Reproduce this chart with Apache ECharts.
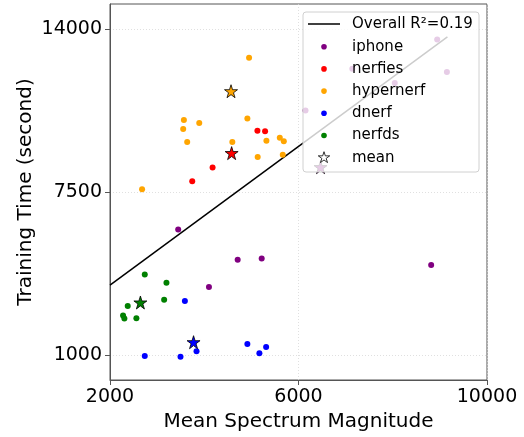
<!DOCTYPE html>
<html>
<head>
<meta charset="utf-8">
<script src="https://cdn.jsdelivr.net/npm/echarts@6/dist/echarts.min.js"></script>
<style>
  html, body { margin: 0; padding: 0; background: #fff; }
  #chart { width: 524px; height: 437px; }
</style>
</head>
<body>
<div id="chart"></div>
<script>
// values
const xTicks = [2000, 6000, 10000];
const yTicks = [1000, 7500, 14000];

const iphoneX = [8943, 9149, 7142, 8043, 6149, 3447, 4709, 5219, 4100, 8815];
const iphoneY = [13588, 12292, 12412, 11852, 10748, 6000, 4800, 4852, 3708, 4588];

const nerfiesX = [5128, 5291, 4177, 3745];
const nerfiesY = [9948, 9920, 8480, 7932];

const hypernerfX = [4951, 3568, 3553, 3894, 3638, 4915, 4596, 5319, 5603, 5688, 5134, 5666, 2681];
const hypernerfY = [12852, 10372, 10012, 10252, 9492, 10428, 9492, 9548, 9668, 9520, 8892, 8988, 7612];

const dnerfX = [3589, 2738, 3496, 3836, 4915, 5170, 5313];
const dnerfY = [3148, 960, 932, 1148, 1440, 1068, 1320];

const nerfdsX = [2738, 3198, 3149, 2376, 2277, 2305, 2560];
const nerfdsY = [4212, 3880, 3200, 2948, 2572, 2452, 2468];

// mean stars, one per dataset
const meanNames = ['iphone', 'nerfies', 'hypernerf', 'dnerf', 'nerfds'];
const meanX = [6468, 4581, 4568, 3773, 2645];
const meanY = [8492, 9052, 11520, 1508, 3092];

// regression line ends
const fitX = [2000, 9160];
const fitY = [3788, 13692];

const colors = {
  iphone: '#800080',
  nerfies: '#ff0000',
  hypernerf: '#ffa500',
  dnerf: '#0000ff',
  nerfds: '#008000'
};

// five point star, outer radius 50, inner 19
const starPts = [
  [50, 0], [61.17, 34.63], [97.55, 34.55], [68.07, 55.87], [79.39, 90.45],
  [50, 69], [20.61, 90.45], [31.93, 55.87], [2.45, 34.55], [38.83, 34.63]
];
const STAR = 'path://M' + starPts.map(p => p.join(' ')).join(' L') + ' Z';
const FONT = 'DejaVu Sans';

const zip = (xs, ys) => xs.map((x, i) => [x, ys[i]]);

const pointSeries = (name, xs, ys) => ({
  name: name,
  type: 'scatter',
  symbol: 'circle',
  symbolSize: 6,
  z: 3,
  itemStyle: { color: colors[name], opacity: 1 },
  data: zip(xs, ys)
});

const legendRows = [
  { label: 'iphone', color: colors.iphone },
  { label: 'nerfies', color: colors.nerfies },
  { label: 'hypernerf', color: colors.hypernerf },
  { label: 'dnerf', color: colors.dnerf },
  { label: 'nerfds', color: colors.nerfds }
];

const legendFont = '15px "' + FONT + '"';
const LZ = 100;
const legendChildren = [
  {
    type: 'rect', z: LZ,
    shape: { x: 0, y: 0, width: 176, height: 160, r: 3 },
    style: { fill: 'rgba(255,255,255,0.8)', stroke: '#d0d0d0', lineWidth: 1 }
  },
  {
    type: 'line', z: LZ + 1,
    shape: { x1: 5, y1: 12, x2: 37, y2: 12 },
    style: { stroke: '#000', lineWidth: 1.5 }
  },
  {
    type: 'text', z: LZ + 1,
    x: 49, y: 12,
    style: { text: 'Overall R²=0.19', font: legendFont, fill: '#000', verticalAlign: 'middle' }
  }
];
legendRows.forEach((row, i) => {
  const cy = 34.7 + i * 22.2;
  legendChildren.push({
    type: 'circle', z: LZ + 1,
    shape: { cx: 21, cy: cy, r: 2.8 },
    style: { fill: row.color }
  });
  legendChildren.push({
    type: 'text', z: LZ + 1,
    x: 49, y: cy,
    style: { text: row.label, font: legendFont, fill: '#000', verticalAlign: 'middle' }
  });
});
const starCy = 34.7 + 5 * 22.2;
legendChildren.push({
  type: 'polygon', z: LZ + 1,
  shape: { points: starPts.map(p => [21 + (p[0] - 50) * 0.12, starCy + (p[1] - 50) * 0.12]) },
  style: { fill: '#fff', stroke: '#000', lineWidth: 0.8 }
});
legendChildren.push({
  type: 'text', z: LZ + 1,
  x: 49, y: starCy,
  style: { text: 'mean', font: legendFont, fill: '#000', verticalAlign: 'middle' }
});

const gridLine = { show: true, lineStyle: { color: '#d8d8d8', type: [1, 2], width: 0.8 } };
const plain = v => String(v);

const option = {
  animation: false,
  backgroundColor: '#fff',
  textStyle: { fontFamily: FONT },
  grid: {
    left: 110, right: 37, top: 4, bottom: 57,
    show: true, borderColor: '#555', borderWidth: 1,
    containLabel: false,
    outerBoundsMode: 'none'
  },
  xAxis: {
    type: 'value',
    min: 2000,
    max: 10000,
    name: 'Mean Spectrum Magnitude',
    nameLocation: 'middle',
    nameGap: 29,
    nameTextStyle: { fontSize: 20, color: '#000', fontFamily: FONT },
    axisLine: { show: true, lineStyle: { color: '#555' } },
    axisTick: { show: true, length: 5, customValues: xTicks, lineStyle: { color: '#555' } },
    axisLabel: { customValues: xTicks, formatter: plain, fontSize: 19, color: '#000', margin: 8, fontFamily: FONT },
    splitLine: gridLine
  },
  yAxis: {
    type: 'value',
    min: 0,
    max: 15000,
    name: 'Training Time (second)',
    nameLocation: 'middle',
    nameGap: 74,
    nameMoveOverlap: false,
    nameTextStyle: { fontSize: 20, color: '#000', fontFamily: FONT },
    axisLine: { show: true, lineStyle: { color: '#555' } },
    axisTick: { show: true, length: 5, customValues: yTicks, lineStyle: { color: '#555' } },
    axisLabel: { customValues: yTicks, formatter: plain, fontSize: 19, color: '#000', margin: 8, fontFamily: FONT },
    splitLine: gridLine
  },
  series: [
    pointSeries('iphone', iphoneX, iphoneY),
    pointSeries('nerfies', nerfiesX, nerfiesY),
    pointSeries('hypernerf', hypernerfX, hypernerfY),
    pointSeries('dnerf', dnerfX, dnerfY),
    pointSeries('nerfds', nerfdsX, nerfdsY),
    {
      name: 'Overall',
      type: 'line',
      z: 2,
      symbol: 'none',
      lineStyle: { color: '#000', width: 1.5 },
      data: zip(fitX, fitY)
    },
    {
      name: 'mean',
      type: 'scatter',
      symbol: STAR,
      symbolSize: 13,
      z: 4,
      itemStyle: { borderColor: '#000', borderWidth: 0.8, opacity: 1 },
      data: meanX.map((x, i) => ({
        value: [x, meanY[i]],
        itemStyle: { color: colors[meanNames[i]] }
      }))
    }
  ],
  graphic: [
    { type: 'group', x: 303, y: 12, z: LZ, children: legendChildren }
  ]
};

const chart = echarts.init(document.getElementById('chart'), null, { renderer: 'canvas' });
chart.setOption(option);
</script>
</body>
</html>
